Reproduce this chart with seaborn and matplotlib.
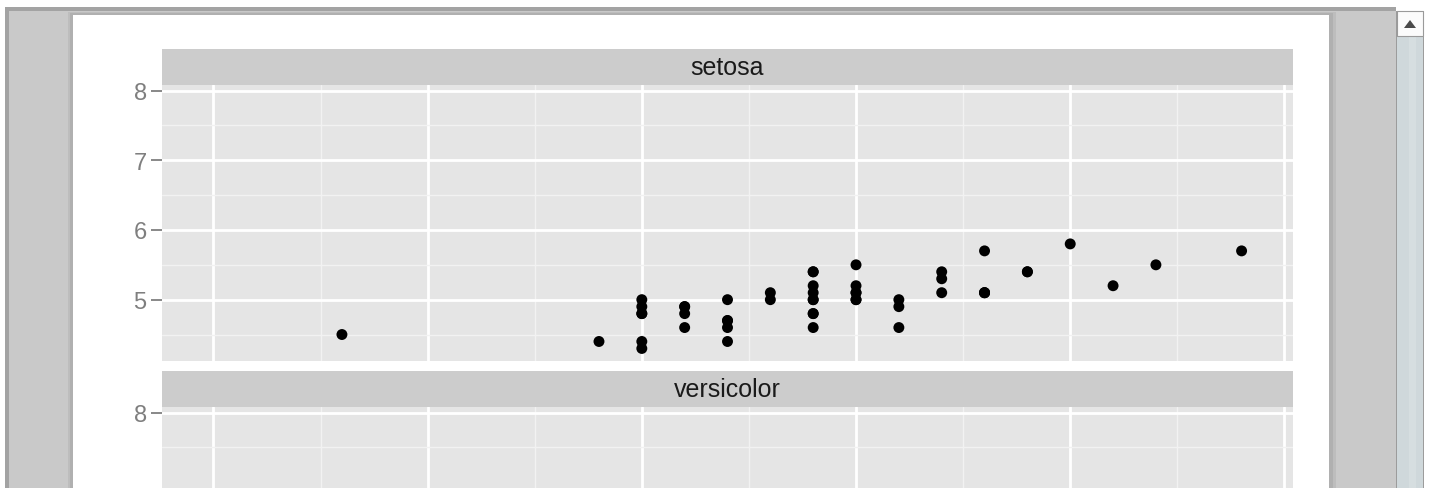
import matplotlib
matplotlib.use("Agg")
import matplotlib.pyplot as plt
from matplotlib.patches import Rectangle, Polygon
import seaborn as sns
import pandas as pd

# Iris setosa measurements: sepal width (x) against sepal length (y)
setosa_sepal_length = [5.1, 4.9, 4.7, 4.6, 5.0, 5.4, 4.6, 5.0, 4.4, 4.9,
                       5.4, 4.8, 4.8, 4.3, 5.8, 5.7, 5.4, 5.1, 5.7, 5.1,
                       5.4, 5.1, 4.6, 5.1, 4.8, 5.0, 5.0, 5.2, 5.2, 4.7,
                       4.8, 5.4, 5.2, 5.5, 4.9, 5.0, 5.5, 4.9, 4.4, 5.1,
                       5.0, 4.5, 4.4, 5.0, 5.1, 4.8, 5.1, 4.6, 5.3, 5.0]
setosa_sepal_width = [3.5, 3.0, 3.2, 3.1, 3.6, 3.9, 3.4, 3.4, 2.9, 3.1,
                      3.7, 3.4, 3.0, 3.0, 4.0, 4.4, 3.9, 3.5, 3.8, 3.8,
                      3.4, 3.7, 3.6, 3.3, 3.4, 3.0, 3.4, 3.5, 3.4, 3.2,
                      3.1, 3.4, 4.1, 4.2, 3.1, 3.2, 3.5, 3.6, 3.0, 3.4,
                      3.5, 2.3, 3.2, 3.5, 3.8, 3.0, 3.8, 3.2, 3.7, 3.3]
facet_labels = ["setosa", "versicolor"]
setosa_y_ticks = [5, 6, 7, 8]
versicolor_y_ticks = [8]
x_major = [2.0, 2.5, 3.0, 3.5, 4.0, 4.5]
x_minor = [2.25, 2.75, 3.25, 3.75, 4.25]
y_minor = [4.5, 5.5, 6.5, 7.5]

W, H = 1435, 489
sns.set_theme(style="white")
plt.rcParams["font.family"] = ["Liberation Sans", "DejaVu Sans"]

fig = plt.figure(figsize=(W / 100, H / 100), dpi=100)
fig.patch.set_facecolor("white")


def px_rect(x0, y0, x1, y1, color, z, **kw):
    r = Rectangle((x0 / W, 1 - y1 / H), (x1 - x0) / W, (y1 - y0) / H,
                  transform=fig.transFigure, facecolor=color,
                  edgecolor=kw.pop("edgecolor", "none"), zorder=z, **kw)
    fig.patches.append(r)
    return r


def px_axes(x0, y0, x1, y1):
    return fig.add_axes([x0 / W, 1 - y1 / H, (x1 - x0) / W, (y1 - y0) / H])


# viewer window around the page
px_rect(5, 8, 1396, 489, "#a3a3a3", -20)
px_rect(9, 12, 1396, 489, "#c9c9c9", -19)
px_rect(68, 13, 1336, 489, "#bdbdbd", -18)
px_rect(70, 14, 1333, 489, "#b0b0b0", -17)
px_rect(73, 16, 1329, 489, "white", -16)

# scrollbar
px_rect(1396, 12, 1424, 489, "#9c9c9c", -15)
px_rect(1397, 38, 1423, 489, "#cfd8db", -14)
px_rect(1409, 38, 1416, 489, "#d6dee0", -13)
px_rect(1397, 12, 1423, 37, "#fbfbfb", -12, edgecolor="#9a9a9a", linewidth=0.8)
tri = Polygon([(1404 / W, 1 - 29 / H), (1416 / W, 1 - 29 / H), (1410 / W, 1 - 21 / H)],
              closed=True, transform=fig.transFigure, facecolor="#4a4a4a",
              edgecolor="none", zorder=-11)
fig.patches.append(tri)

xlim = (1.88, 4.52)
ylim = (4.12, 8.08)
text_grey = "#7f7f7f"

panels = [
    (facet_labels[0], 50, 86, 362, setosa_y_ticks,
     pd.DataFrame({"Sepal.Width": setosa_sepal_width,
                   "Sepal.Length": setosa_sepal_length})),
    (facet_labels[1], 372, 408, 684, versicolor_y_ticks, None),
]

for label, strip_top, top, bottom, yt, df in panels:
    strip = px_axes(162, strip_top, 1293, top)
    strip.set_facecolor("#cccccc")
    strip.set_xticks([])
    strip.set_yticks([])
    for s in strip.spines.values():
        s.set_visible(False)
    strip.text(0.5, 0.5, label, ha="center", va="center", fontsize=18,
               color="#1a1a1a", transform=strip.transAxes)

    ax = px_axes(162, top, 1293, bottom)
    ax.set_facecolor("#e5e5e5")
    for s in ax.spines.values():
        s.set_visible(False)
    ax.set_xlim(*xlim)
    ax.set_ylim(*ylim)
    ax.set_xticks(x_major)
    ax.set_xticks(x_minor, minor=True)
    ax.set_yticks(yt)
    ax.set_yticks(y_minor, minor=True)
    ax.set_yticklabels([str(t) for t in yt])
    ax.tick_params(axis="x", which="both", length=0, labelbottom=False)
    ax.tick_params(axis="y", which="major", length=8, width=1.3,
                   color=text_grey, labelcolor=text_grey, labelsize=17, pad=3, left=True)
    ax.tick_params(axis="y", which="minor", length=0)
    ax.grid(which="minor", color="#f2f2f2", linewidth=1.0)
    ax.grid(which="major", color="white", linewidth=2.0)
    ax.set_axisbelow(True)
    if df is not None:
        sns.scatterplot(data=df, x="Sepal.Width", y="Sepal.Length", ax=ax,
                        color="black", s=62, edgecolor="none", legend=False,
                        zorder=3)
    ax.set_xlabel("")
    ax.set_ylabel("")

fig.savefig("out.png", dpi=100)
